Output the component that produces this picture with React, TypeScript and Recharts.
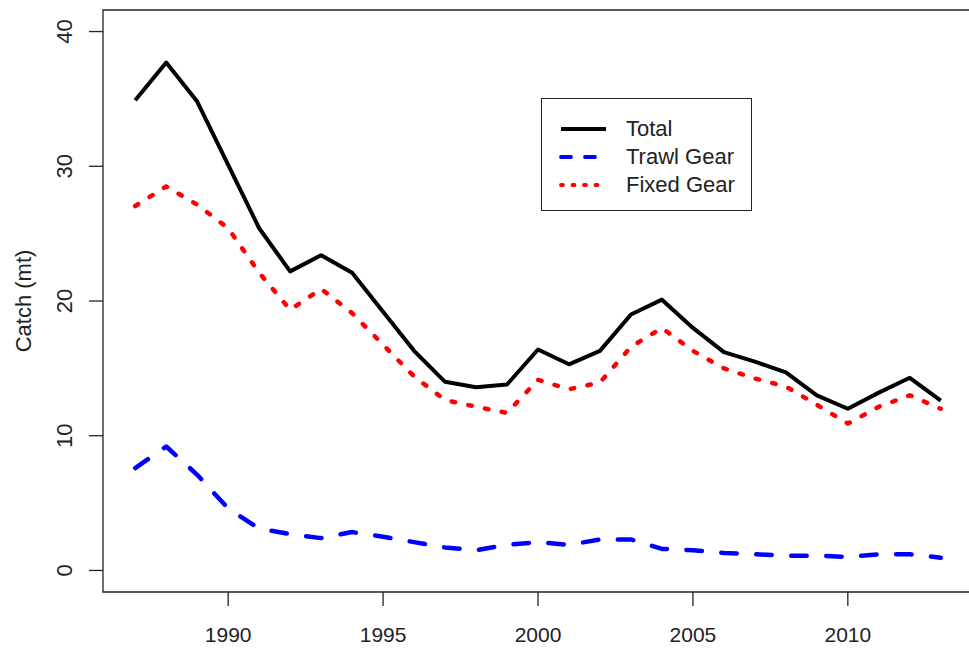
import React from 'react';
import { LineChart, Line, XAxis, YAxis, ReferenceArea, Legend } from 'recharts';

const years = [
  1987, 1988, 1989, 1990, 1991, 1992, 1993, 1994, 1995, 1996, 1997, 1998, 1999, 2000,
  2001, 2002, 2003, 2004, 2005, 2006, 2007, 2008, 2009, 2010, 2011, 2012, 2013,
];
const totalCatch = [
  34.9, 37.7, 34.8, 30.1, 25.4, 22.2, 23.4, 22.1, 19.2, 16.3, 14.0, 13.6, 13.8, 16.4,
  15.3, 16.3, 19.0, 20.1, 18.0, 16.2, 15.5, 14.7, 13.0, 12.0, 13.2, 14.3, 12.6,
];
const trawlCatch = [
  7.6, 9.2, 7.1, 4.6, 3.1, 2.7, 2.4, 2.85, 2.5, 2.1, 1.7, 1.5, 1.9, 2.1,
  1.9, 2.3, 2.3, 1.6, 1.5, 1.3, 1.2, 1.1, 1.1, 1.0, 1.2, 1.2, 0.95,
];
const fixedCatch = [
  27.05, 28.5, 27.15, 25.4, 22.1, 19.35, 20.9, 19.1, 16.75, 14.4, 12.65, 12.15, 11.7, 14.15,
  13.45, 13.95, 16.6, 18.0, 16.3, 15.0, 14.25, 13.65, 12.3, 10.9, 12.15, 13.0, 12.0,
];
const xTicks = [1990, 1995, 2000, 2005, 2010];
const yTicks = [0, 10, 20, 30, 40];

const data = years.map((year, i) => ({
  year,
  total: totalCatch[i],
  trawl: trawlCatch[i],
  fixed: fixedCatch[i],
}));

// R-style 4% padding around the data range
const xDomain = [1985.96, 2014.04];
const yDomain = [-1.6, 41.6];

const FONT = '"Liberation Sans", Arial, Helvetica, sans-serif';
const INK = '#222';

const series = [
  { key: 'total', name: 'Total', color: '#000000', width: 4, dash: undefined, legendDash: undefined },
  { key: 'trawl', name: 'Trawl Gear', color: '#0000ff', width: 4.5, dash: '15.5 19.5', legendDash: '10 14' },
  { key: 'fixed', name: 'Fixed Gear', color: '#ff0000', width: 4.5, dash: '3.5 13.5', legendDash: '2 9.5' },
];

const YTick = ({ x, y, payload }: any) => (
  <text
    x={x}
    y={y}
    transform={`rotate(-90 ${x} ${y})`}
    textAnchor="middle"
    fill={INK}
    fontSize={22}
    fontFamily={FONT}
  >
    {payload.value}
  </text>
);

const YTitle = () => (
  <text
    x={31}
    y={301}
    transform="rotate(-90 31 301)"
    textAnchor="middle"
    fill={INK}
    fontSize={22}
    fontFamily={FONT}
  >
    Catch (mt)
  </text>
);

const LegendBox = () => (
  <div
    style={{
      width: 211,
      height: 113,
      boxSizing: 'border-box',
      border: `1.3px solid ${INK}`,
      background: '#fff',
      paddingTop: 16,
    }}
  >
    {series.map((s) => (
      <div key={s.key} style={{ display: 'flex', alignItems: 'center', height: 28 }}>
        <svg width={84} height={28} style={{ display: 'block' }}>
          <line
            x1={19}
            x2={64}
            y1={14}
            y2={14}
            stroke={s.color}
            strokeWidth={s.key === 'total' ? 4 : 3.8}
            strokeDasharray={s.legendDash}
            strokeLinecap={s.legendDash ? 'round' : 'butt'}
          />
        </svg>
        <span style={{ fontFamily: FONT, fontSize: 22, color: INK, lineHeight: '28px' }}>{s.name}</span>
      </div>
    ))}
  </div>
);

export default function App() {
  return (
    <div
      style={{
        position: 'absolute',
        left: 0,
        top: 0,
        width: 969,
        height: 648,
        overflow: 'hidden',
        background: '#fff',
      }}
    >
      <LineChart width={980} height={648} data={data} margin={{ top: 10, right: 7, bottom: 0, left: 0 }}>
        <XAxis
          dataKey="year"
          type="number"
          domain={xDomain}
          ticks={xTicks}
          allowDataOverflow
          axisLine={false}
          tickSize={14}
          tickMargin={21}
          height={56}
          tickLine={{ stroke: INK, strokeWidth: 1.3 }}
          tick={{ fill: INK, fontSize: 21, fontFamily: FONT }}
        />
        <YAxis
          type="number"
          domain={yDomain}
          ticks={yTicks}
          allowDataOverflow
          axisLine={false}
          width={103}
          tickSize={14}
          tickMargin={17}
          tickLine={{ stroke: INK, strokeWidth: 1.3 }}
          tick={<YTick />}
          label={{ content: () => <YTitle /> }}
        />
        <ReferenceArea
          x1={xDomain[0]}
          x2={xDomain[1]}
          y1={yDomain[0]}
          y2={yDomain[1]}
          fill="none"
          fillOpacity={0}
          stroke={INK}
          strokeWidth={1.3}
          ifOverflow="visible"
        />
        {series.map((s) => (
          <Line
            key={s.key}
            dataKey={s.key}
            name={s.name}
            type="linear"
            stroke={s.color}
            strokeWidth={s.width}
            strokeDasharray={s.dash}
            strokeLinecap={s.dash ? 'round' : 'butt'}
            strokeLinejoin="round"
            dot={false}
            activeDot={false}
            isAnimationActive={false}
          />
        ))}
        <Legend
          layout="vertical"
          align="center"
          verticalAlign="middle"
          content={() => <LegendBox />}
          wrapperStyle={{ position: 'absolute', left: 541, top: 98, width: 211, height: 113 }}
        />
      </LineChart>
    </div>
  );
}
